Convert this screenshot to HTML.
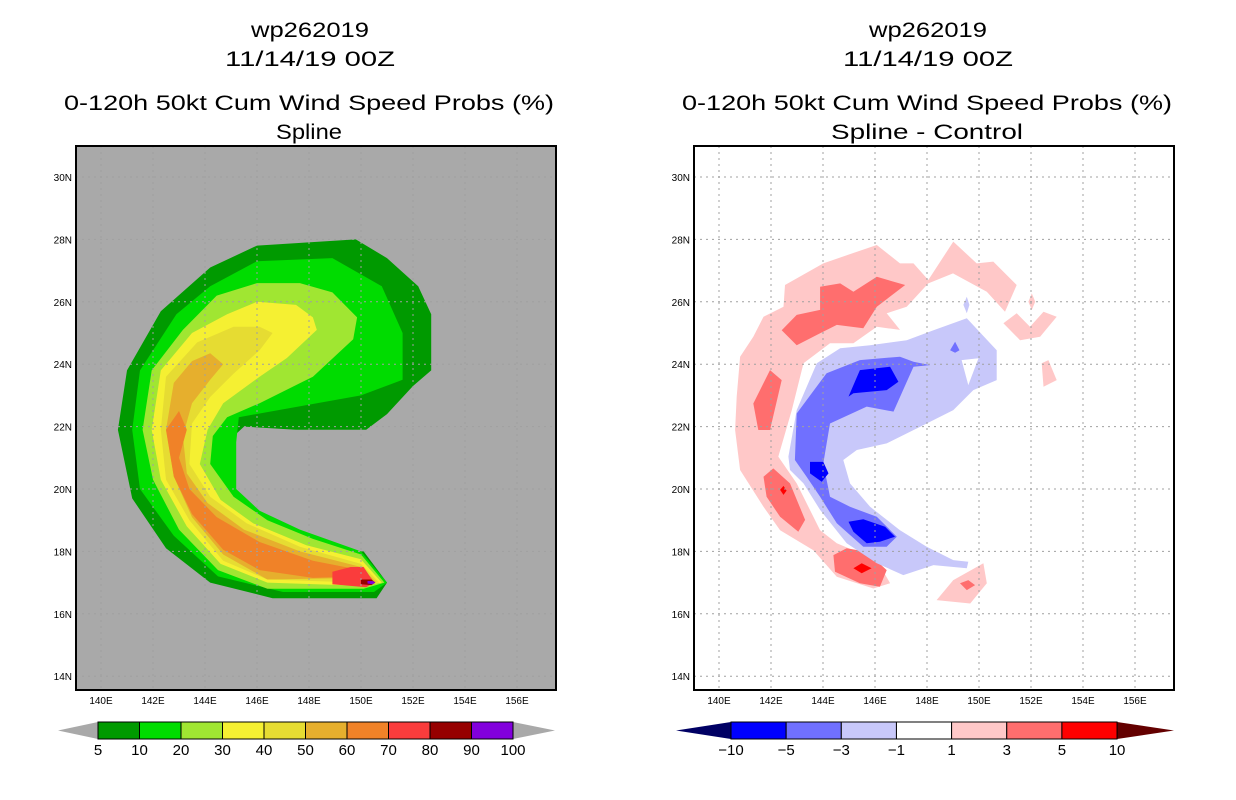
<!DOCTYPE html>
<html><head><meta charset="utf-8"><style>
html,body{margin:0;padding:0;background:#fff;}
svg{display:block;font-family:"Liberation Sans",sans-serif;}
</style></head><body>
<svg id="chart" width="1236" height="800" viewBox="0 0 1236 800" xmlns="http://www.w3.org/2000/svg">
<defs>
<clipPath id="clipL"><rect x="76" y="146" width="480" height="544"/></clipPath>
<clipPath id="clipR"><rect x="694" y="146" width="480" height="544"/></clipPath>
</defs>
<g id="titles" font-size="21" fill="#000" text-anchor="middle">
<text x="310" y="37" textLength="118" lengthAdjust="spacingAndGlyphs">wp262019</text>
<text x="310" y="66" textLength="170" lengthAdjust="spacingAndGlyphs">11/14/19 00Z</text>
<text x="309" y="110" textLength="490" lengthAdjust="spacingAndGlyphs">0-120h 50kt Cum Wind Speed Probs (%)</text>
<text x="309" y="139" textLength="66" lengthAdjust="spacingAndGlyphs">Spline</text>
<text x="928" y="37" textLength="118" lengthAdjust="spacingAndGlyphs">wp262019</text>
<text x="928" y="66" textLength="170" lengthAdjust="spacingAndGlyphs">11/14/19 00Z</text>
<text x="927" y="110" textLength="490" lengthAdjust="spacingAndGlyphs">0-120h 50kt Cum Wind Speed Probs (%)</text>
<text x="927" y="139" textLength="192" lengthAdjust="spacingAndGlyphs">Spline - Control</text>
</g>
<g id="plotL" clip-path="url(#clipL)"></g>
<g id="plotR" clip-path="url(#clipR)"></g>
<g id="axes"></g>
</svg>
<script>
// ---------- data ----------
const lonTicks = [140,142,144,146,148,150,152,154,156];
const latTicks = [14,16,18,20,22,24,26,28,30];
const probLevels = [5,10,20,30,40,50,60,70,80,90,100];
const probColors = ['#009a00','#00dc00','#a0e632','#f5f032','#e6dc32','#e6af2d','#f08228','#fa3c3c','#960000','#8200dc'];
const diffLevels = ['-10','-5','-3','-1','1','3','5','10'];
const diffColors = ['#0000ff','#7070ff','#c8c8fa','#ffffff','#ffc8c8','#ff6e6e','#ff0000'];
// Left: cumulative probability contours [lon,lat]
const prob5 = [[146,27.8],[149.8,28],[151,27.4],[152.2,26.5],[152.7,25.6],[152.7,23.8],[152,23.3],[151,22.4],[150.2,21.9],[147.5,21.9],[145.5,22],[144.85,21.5],[144.85,20.2],[145.3,19.6],[146,19],[147.65,18.5],[148.9,18],[150.1,18],[151,17],[150.6,16.5],[146.6,16.5],[144.2,17],[142.5,18.1],[141.2,19.7],[140.65,21.9],[141,23.8],[142.3,25.7],[144.2,27.1]];
const prob10 = [[146,27.3],[148.9,27.4],[150.8,26.5],[151.6,25],[151.6,23.5],[150,23],[145.3,22.3],[145.2,21.5],[145.2,20],[146.1,19.3],[147.65,18.7],[150,18],[151,17],[150.5,16.7],[147,16.7],[144.5,17.2],[142.8,18.5],[141.5,20],[141.2,21.9],[141.5,23.8],[142.9,25.6],[144.2,26.5]];
const prob20 = [[146,26.6],[147.65,26.6],[148.9,26.3],[149.85,25.5],[149.7,24.8],[148.15,23.6],[146.1,22.75],[144.85,22.3],[144.3,21.7],[144.2,20.8],[145.1,19.75],[146.4,19],[148.15,18.4],[150,17.9],[150.9,17],[150.1,16.8],[146.4,16.8],[144.5,17.4],[143,18.7],[142,20.3],[141.6,21.9],[141.95,23.8],[143.15,25.1],[144.45,26.2]];
const prob30 = [[146,26],[147.5,25.9],[148.15,25.5],[148.3,25.1],[147.15,24.2],[146.1,23.6],[144.7,22.75],[144.1,21.9],[143.8,20.8],[144.6,19.65],[145.85,18.9],[147.9,18.2],[150,17.75],[150.8,17],[150,16.9],[146.4,17],[144.6,17.6],[143.3,18.8],[142.3,20.3],[141.95,21.9],[142.3,23.8],[143.5,25],[144.85,25.6]];
const prob40 = [[145.1,25.2],[146.1,25.2],[146.6,25],[146.1,24.45],[145.1,23.7],[144.2,22.95],[143.5,22.1],[143.4,20.8],[144.2,19.75],[145.6,18.9],[147.65,18.15],[150,17.6],[150.7,17],[150,17],[146.4,17.1],[144.7,17.7],[143.4,19],[142.5,20.3],[142.3,21.9],[142.5,23.6],[143.7,24.7]];
const prob50 = [[144.2,24.35],[144.7,24],[144.2,23.5],[143.5,22.75],[143.15,21.7],[143.3,20.5],[144.1,19.55],[145.5,18.7],[147.65,18],[150,17.5],[150.6,17],[150,17.15],[146.4,17.1],[144.7,17.9],[143.5,19.1],[142.8,20.4],[142.5,21.9],[142.8,23.4],[143.5,24.1]];
const prob60 = [[143,22.5],[143.3,21.9],[143,21],[143.4,20],[144.45,19.1],[146.1,18.3],[148.15,17.7],[150,17.4],[150.5,17],[150,17.2],[148.15,17.15],[146.1,17.4],[144.7,18.05],[143.5,19.2],[142.8,20.4],[142.5,21.9]];
const prob70 = [[148.9,17.35],[149.6,17.5],[150.1,17.5],[150.5,17],[150.2,16.85],[148.9,16.95]];
const prob80 = [[150.0,17.1],[150.4,17.1],[150.55,17],[150.4,16.92],[150.0,16.95]];
const prob90 = [[150.25,17.05],[150.45,17.05],[150.55,17],[150.45,16.95],[150.25,16.97]];
// Right: difference contours [lon,lat]
const diffPos1 = [[142.54,26.54],[144.01,27.23],[145.04,27.53],[146.07,27.82],[146.96,27.23],[147.48,27.23],[148.05,26.7],[149.01,27.93],[149.91,27.23],[150.55,27.29],[151.45,26.54],[151.0,25.68],[150.3,26.32],[149.0,26.91],[148.05,26.59],[147.22,25.84],[146.45,25.63],[146.96,25.1],[146.07,25.2],[145.17,24.67],[144.27,24.67],[143.25,24.03],[142.8,22.53],[142.28,21.04],[142.99,20.18],[143.89,18.68],[144.53,18.26],[146.07,17.72],[146.58,16.98],[145.94,16.81],[144.53,17.19],[143.63,18.04],[142.35,18.68],[141.71,19.43],[140.81,20.61],[140.62,21.89],[140.68,22.96],[140.81,24.24],[141.32,24.88],[141.71,25.52],[142.48,25.84]];
const diffPos1b = [[148.37,16.44],[149.01,17.08],[150.17,17.62],[150.3,16.98],[149.66,16.33]];
const diffPos1c = [[150.94,25.31],[151.45,25.63],[151.96,25.2],[152.48,25.68],[152.99,25.52],[152.35,24.88],[151.58,24.77]];
const diffPos1d = [[152.41,24.03],[152.67,24.13],[152.99,23.49],[152.48,23.28]];
const diffPos1e = [[152.03,26.27],[152.16,26.0],[152.03,25.74],[151.9,26.0]];
const diffPos3a = [[142.41,25.09],[142.99,25.58],[143.89,25.74],[143.89,26.48],[144.66,26.59],[145.17,26.32],[146.07,26.8],[147.16,26.54],[146.07,25.84],[145.55,25.15],[144.53,25.26],[143.89,24.99],[142.99,24.61]];
const diffPos3b = [[141.32,22.74],[141.96,23.81],[142.41,23.49],[141.96,21.89],[141.51,21.89]];
const diffPos3c = [[141.71,20.39],[142.09,20.66],[142.73,20.18],[143.31,19.01],[143.05,18.63],[142.35,19.11],[141.83,19.75]];
const diffPos3d = [[144.4,17.88],[144.91,18.1],[145.68,17.99],[146.45,17.4],[146.19,16.87],[145.42,16.98],[144.46,17.35]];
const diffPos3e = [[149.27,16.98],[149.59,17.08],[149.85,16.92],[149.53,16.76]];
const diffPos5a = [[145.17,17.46],[145.49,17.62],[145.87,17.46],[145.49,17.3]];
const diffPos5b = [[142.35,19.97],[142.48,20.1],[142.6,19.95],[142.48,19.81]];
const diffNeg1 = [[142.67,21.04],[142.99,22.53],[143.76,24.03],[144.66,24.51],[145.81,24.61],[147.22,24.77],[148.25,25.09],[149.53,25.47],[150.68,24.45],[150.68,23.49],[149.78,23.17],[149.01,22.53],[147.99,22.1],[146.45,21.46],[145.3,21.25],[144.78,20.93],[145.04,20.18],[145.81,19.43],[146.96,18.68],[147.99,18.15],[149.01,17.72],[149.59,17.67],[149.53,17.46],[148.25,17.56],[147.09,17.24],[146.07,17.62],[144.91,18.26],[143.89,19.33],[143.25,20.18],[142.73,20.61]];
const diffNeg1hole = [[149.33,24.13],[149.98,24.19],[149.59,23.33]];
const diffNeg1b = [[149.53,26.16],[149.63,25.9],[149.53,25.63],[149.4,25.9]];
const diffNeg3a = [[142.99,22.42],[144.14,23.71],[145.42,24.13],[146.96,24.24],[147.48,24.08],[148.12,23.97],[147.48,23.92],[146.71,22.48],[145.68,22.64],[144.27,22.1],[144.01,20.82],[144.27,19.75],[145.04,19.43],[146.07,19.11],[146.84,18.47],[146.45,18.15],[145.55,18.15],[144.53,18.9],[143.89,19.75],[143.37,20.39],[142.92,20.93]];
const diffNeg3b = [[148.89,24.45],[149.08,24.72],[149.25,24.45],[149.08,24.37]];
const diffNeg5a = [[144.98,22.96],[145.42,23.81],[146.58,23.92],[146.9,23.44],[146.45,23.17],[145.17,23.07]];
const diffNeg5b = [[143.5,20.87],[144.01,20.87],[144.21,20.5],[143.95,20.23],[143.5,20.5]];
const diffNeg5c = [[144.98,18.95],[145.55,19.03],[146.39,18.79],[146.77,18.47],[146.19,18.31],[145.68,18.26],[145.17,18.63]];

// ---------- axis functions ----------
const NS='http://www.w3.org/2000/svg';
function xL(lon){return 101+(lon-140)*26;}
function xR(lon){return 719+(lon-140)*26;}
function yM(lat){return 177+(30-lat)*31.2;}
function mk(tag,attrs,parent){const e=document.createElementNS(NS,tag);for(const k in attrs)e.setAttribute(k,attrs[k]);parent.appendChild(e);return e;}
function pts(poly,xf){return poly.map(p=>xf(p[0]).toFixed(1)+','+yM(p[1]).toFixed(1)).join(' ');}

const gL=document.getElementById('plotL'), gR=document.getElementById('plotR'), gA=document.getElementById('axes');
let r=mk('rect',{x:76,y:146,width:480,height:544,fill:'#a9a9a9'},gL);


r=mk('rect',{x:694,y:146,width:480,height:544,fill:'#ffffff'},gR);



const leftLayers=[[prob5,0,'prob-5'],[prob10,1,'prob-10'],[prob20,2,'prob-20'],[prob30,3,'prob-30'],[prob40,4,'prob-40'],[prob50,5,'prob-50'],[prob60,6,'prob-60'],[prob70,7,'prob-70'],[prob80,8,'prob-80'],[prob90,9,'prob-90']];
leftLayers.forEach(l=>{
  const p=mk('polygon',{points:pts(l[0],xL),fill:probColors[l[1]]},gL);
  
  
});
const rightLayers=[[diffPos1,4,'pos1'],[diffPos1b,4,'pos1'],[diffPos1c,4,'pos1'],[diffPos1d,4,'pos1'],[diffPos1e,4,'pos1'],
 [diffPos3a,5,'pos3'],[diffPos3b,5,'pos3'],[diffPos3c,5,'pos3'],[diffPos3d,5,'pos3'],[diffPos3e,5,'pos3'],
 [diffPos5a,6,'pos5'],[diffPos5b,6,'pos5'],
 [diffNeg1,2,'neg1'],[diffNeg1hole,3,'neg1-hole'],[diffNeg1b,2,'neg1'],
 [diffNeg3a,1,'neg3'],[diffNeg3b,1,'neg3'],
 [diffNeg5a,0,'neg5'],[diffNeg5b,0,'neg5'],[diffNeg5c,0,'neg5']];
rightLayers.forEach(l=>{
  const p=mk('polygon',{points:pts(l[0],xR),fill:diffColors[l[1]]},gR);
  
  
});

// grid lines
[[gL,xL,76,556],[gR,xR,694,1174]].forEach(([g,xf,x0,x1])=>{
  lonTicks.forEach(t=>{const l=mk('line',{x1:xf(t),x2:xf(t),y1:146,y2:690,stroke:'#a0a0a0','stroke-dasharray':'2,4','stroke-width':1},g);
    
    });
  latTicks.forEach(t=>{const l=mk('line',{x1:x0,x2:x1,y1:yM(t),y2:yM(t),stroke:'#a0a0a0','stroke-dasharray':'2,4','stroke-width':1},g);
    
    });
});

// frames and tick labels
[[xL,76,'left'],[xR,694,'right']].forEach(([xf,x0,side])=>{
  const f=mk('rect',{x:x0,y:146,width:480,height:544,fill:'none',stroke:'#000','stroke-width':2},gA);
  
  
  lonTicks.forEach(t=>{const tx=mk('text',{x:xf(t),y:704,'font-size':10,'text-anchor':'middle'},gA);tx.textContent=t+'E';
    
    });
  latTicks.forEach(t=>{const tx=mk('text',{x:x0-4,y:yM(t)+4,'font-size':10,'text-anchor':'end'},gA);tx.textContent=t+'N';
    
    });
});

// left colorbar
const cbL=mk('g',{},gA);


const bw=41.5, bx0=98;
let tri=mk('polygon',{points:'58,730.5 98,722 98,739',fill:'#a9a9a9'},cbL);


tri=mk('polygon',{points:(bx0+10*bw)+',722 555,730.5 '+(bx0+10*bw)+',739',fill:'#a9a9a9'},cbL);


probColors.forEach((c,i)=>{const b=mk('rect',{x:bx0+i*bw,y:722,width:bw,height:17,fill:c,stroke:'#000','stroke-width':1},cbL);
  
  });
probLevels.forEach((v,i)=>{const t=mk('text',{x:bx0+i*bw,y:755,'font-size':15,'text-anchor':'middle'},cbL);t.textContent=v;
  
  });

// right colorbar
const cbR=mk('g',{},gA);


const rw=55.15, rx0=731;
tri=mk('polygon',{points:'676,730.5 731,722 731,739',fill:'#000064'},cbR);


tri=mk('polygon',{points:(rx0+7*rw)+',722 1174,730.5 '+(rx0+7*rw)+',739',fill:'#640000'},cbR);


diffColors.forEach((c,i)=>{const b=mk('rect',{x:rx0+i*rw,y:722,width:rw,height:17,fill:c,stroke:'#000','stroke-width':1},cbR);
  
  });
diffLevels.forEach((v,i)=>{const t=mk('text',{x:rx0+i*rw,y:755,'font-size':15,'text-anchor':'middle'},cbR);t.textContent=v.replace('-','\u2212');
  
  });
</script>
</body></html>
